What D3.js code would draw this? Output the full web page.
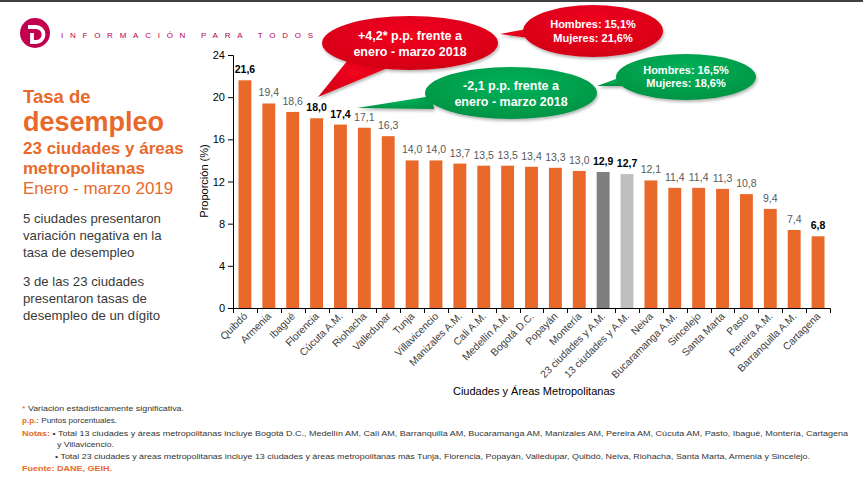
<!DOCTYPE html>
<html><head><meta charset="utf-8">
<script src="https://cdn.jsdelivr.net/npm/d3@7"></script>
<style>
body{margin:0;background:#fff;}
svg{display:block;font-family:"Liberation Sans",Arial,sans-serif;}
</style></head>
<body><svg id="c" width="863" height="487"></svg>
<script>
const categories = ["Quibdó","Armenia","Ibagué","Florencia","Cúcuta A.M.","Riohacha","Valledupar","Tunja","Villavicencio","Manizales A.M.","Cali A.M.","Medellín A.M.","Bogotá D.C.","Popayán","Montería","23 ciudades y A.M.","13 ciudades y A.M.","Neiva","Bucaramanga A.M.","Sincelejo","Santa Marta","Pasto","Pereira A.M.","Barranquilla A.M.","Cartagena"];
const values = [21.6,19.4,18.6,18.0,17.4,17.1,16.3,14.0,14.0,13.7,13.5,13.5,13.4,13.3,13.0,12.9,12.7,12.1,11.4,11.4,11.3,10.8,9.4,7.4,6.8];
const boldLabels = ["Quibdó","Florencia","Cúcuta A.M.","23 ciudades y A.M.","13 ciudades y A.M.","Cartagena"];
const yTicks = [0,4,8,12,16,20,24];

const ORANGE = "#E8692A", DARK = "#7F7F7F", LIGHT = "#BFBFBF";
const svg = d3.select("#c");

// top rule
svg.append("rect").attr("x",0).attr("y",0).attr("width",863).attr("height",2).attr("fill","#3f4144");

// logo
const logo = svg.append("g");
logo.append("circle").attr("cx",35).attr("cy",33).attr("r",15).attr("fill","#C2004F");
logo.append("path").attr("d","M28,27 L36,27 A7.5,7.5 0 0 1 36,42 L32,42 L32,33")
  .attr("fill","none").attr("stroke","#fff").attr("stroke-width",3.8).attr("stroke-linejoin","miter");
svg.append("text").attr("x",61).attr("y",38).attr("font-size",8).attr("fill","#B5004C")
  .attr("textLength",252).attr("lengthAdjust","spacing").text("INFORMACIÓN PARA TODOS");

// left titles
const L = svg.append("g").attr("fill",ORANGE).attr("font-family","'Liberation Sans',Arial,sans-serif");
L.append("text").attr("x",23).attr("y",103).attr("font-size",18.5).attr("font-weight","bold").text("Tasa de");
L.append("text").attr("x",23).attr("y",131).attr("font-size",27).attr("font-weight","bold").text("desempleo");
L.append("text").attr("x",23).attr("y",154).attr("font-size",17).attr("font-weight","bold").text("23 ciudades y áreas");
L.append("text").attr("x",23).attr("y",174).attr("font-size",17).attr("font-weight","bold").text("metropolitanas");
L.append("text").attr("x",23).attr("y",194).attr("font-size",17).text("Enero - marzo 2019");
const body = ["5 ciudades presentaron","variación negativa en la","tasa de desempleo","","3 de las 23 ciudades","presentaron tasas de","desempleo de un dígito"];
const bodyY = [223,240,257,0,286,303,320];
body.forEach((t,i)=>{ if(t) svg.append("text").attr("x",23).attr("y",bodyY[i]).attr("font-size",13.2).attr("fill","#3a3a3a").text(t); });

// chart
const x = d3.scaleBand().domain(categories).range([233,830]).paddingInner(0.46).paddingOuter(0.23);
const y = d3.scaleLinear().domain([0,24]).range([308,55]);

const yAxis = d3.axisLeft(y).tickValues(yTicks).tickSize(5).tickFormat(d3.format("d"));
const gy = svg.append("g").attr("transform","translate(233,0)").call(yAxis);
gy.selectAll("text").attr("font-size",11).attr("fill","#000").attr("font-family","'Liberation Sans',Arial,sans-serif");
gy.selectAll("line,path").attr("stroke","#000");
gy.select(".domain").attr("d","M-5,55.5H0.5V308.5H-5");

svg.append("text").attr("transform","translate(208,181) rotate(-90)").attr("text-anchor","middle")
  .attr("font-size",11).attr("fill","#000").text("Proporción (%)");

const bars = svg.append("g");
bars.selectAll("rect").data(categories).join("rect")
  .attr("x",d=>x(d)).attr("width",x.bandwidth())
  .attr("y",(d,i)=>y(values[i])).attr("height",(d,i)=>y(0)-y(values[i]))
  .attr("fill",(d,i)=> d==="23 ciudades y A.M." ? DARK : d==="13 ciudades y A.M." ? LIGHT : ORANGE);

// x axis baseline with ticks between categories
const step = x.step();
const gx = svg.append("g");
gx.append("line").attr("x1",233).attr("x2",830.5).attr("y1",308.5).attr("y2",308.5).attr("stroke","#000");
d3.range(categories.length+1).forEach(i=>{
  const xx = Math.round(233 + i*step)+0.5;
  gx.append("line").attr("x1",xx).attr("x2",xx).attr("y1",308.5).attr("y2",313).attr("stroke","#000");
});
gx.selectAll("text.cat").data(categories).join("text").attr("class","cat")
  .attr("transform",d=>`translate(${x(d)+x.bandwidth()/2+3},${317}) rotate(-45)`)
  .attr("text-anchor","end").attr("font-size",10.3).attr("fill","#404040").text(d=>d);

// value labels
const fmt = v => v.toFixed(1).replace(".",",");
svg.append("g").selectAll("text").data(categories).join("text")
  .attr("x",d=>x(d)+x.bandwidth()/2).attr("y",(d,i)=>y(values[i])-7)
  .attr("text-anchor","middle")
  .attr("font-size",10.5)
  .attr("font-weight",d=>boldLabels.includes(d)?"bold":"normal")
  .attr("fill",d=>boldLabels.includes(d)?"#000":"#595959")
  .text((d,i)=>fmt(values[i]));

svg.append("text").attr("x",534).attr("y",395).attr("text-anchor","middle").attr("font-size",11)
  .attr("fill","#000").text("Ciudades y  Áreas Metropolitanas");

// callouts
const defs = svg.append("defs");
function grad(id,c1,c2){
  const g = defs.append("radialGradient").attr("id",id).attr("cx","50%").attr("cy","35%").attr("r","65%");
  g.append("stop").attr("offset","0%").attr("stop-color",c1);
  g.append("stop").attr("offset","100%").attr("stop-color",c2);
}
grad("gr","#F2071F","#D30016");
grad("gg","#00B25A","#009444");
const f = defs.append("filter").attr("id","sh").attr("x","-20%").attr("y","-20%").attr("width","140%").attr("height","150%");
f.append("feDropShadow").attr("dx",1).attr("dy",2).attr("stdDeviation",1.5).attr("flood-color","#000").attr("flood-opacity",0.3);
function callout(cx,cy,rx,ry,tail,fill,lines,fs,lh){
  const g = svg.append("g");
  const s = g.append("g").attr("filter","url(#sh)");
  s.append("path").attr("d","M"+tail.map(p=>p.join(",")).join("L")+"Z").attr("fill",fill);
  s.append("ellipse").attr("cx",cx).attr("cy",cy).attr("rx",rx).attr("ry",ry).attr("fill",fill);
  lines.forEach((t,i)=>g.append("text").attr("x",cx).attr("y",cy+(i-(lines.length-1)/2)*lh+fs*0.36)
    .attr("text-anchor","middle").attr("font-size",fs).attr("font-weight","bold").attr("fill","#fff").text(t));
}
callout(410,43,88,27,[[348,60],[318,97],[390,67]],"url(#gr)",["+4,2* p.p. frente a","enero - marzo 2018"],12.5,16);
callout(593,31,70,26,[[527,29],[500,34],[529,38]],"url(#gr)",["Hombres: 15,1%","Mujeres: 21,6%"],11,14);
callout(511,93,86,26,[[432,96],[357,108],[434,109]],"url(#gg)",["-2,1 p.p. frente a","enero - marzo 2018"],12.5,16);
callout(686,77,70,23,[[624,76],[597,86],[622,86]],"url(#gg)",["Hombres: 16,5%","Mujeres: 18,6%"],11,13);

// footnotes
const F = svg.append("g").attr("font-size",7.6).attr("font-family","'Liberation Sans Narrow','Liberation Sans',Arial,sans-serif");
function fline(xp,yp,parts,w){
  const t = F.append("text").attr("x",xp).attr("y",yp);
  if(w) t.attr("textLength",w).attr("lengthAdjust","spacingAndGlyphs");
  parts.forEach(p=>t.append("tspan").attr("fill",p[1]).attr("font-weight",p[2]||"normal").text(p[0]));
}
fline(22,411,[["* ",ORANGE],["Variación estadísticamente significativa.","#333"]],162);
fline(22,423,[["p.p.: ",ORANGE,"bold"],["Puntos porcentuales.","#333"]],95);
fline(22,436,[["Notas: ",ORANGE,"bold"],["• Total 13 ciudades y áreas metropolitanas incluye Bogotá D.C., Medellín AM, Cali AM, Barranquilla AM, Bucaramanga AM, Manizales AM, Pereira AM, Cúcuta AM, Pasto, Ibagué, Montería, Cartagena","#333"]],826);
fline(57,447,[["y Villavicencio.","#333"]],57);
fline(55,459,[["• Total 23 ciudades y áreas metropolitanas incluye 13 ciudades y áreas metropolitanas más Tunja, Florencia, Popayán, Valledupar, Quibdó, Neiva, Riohacha, Santa Marta, Armenia y Sincelejo.","#333"]],755);
fline(22,471,[["Fuente: DANE, GEIH.",ORANGE,"bold"]],90);
</script></body></html>
